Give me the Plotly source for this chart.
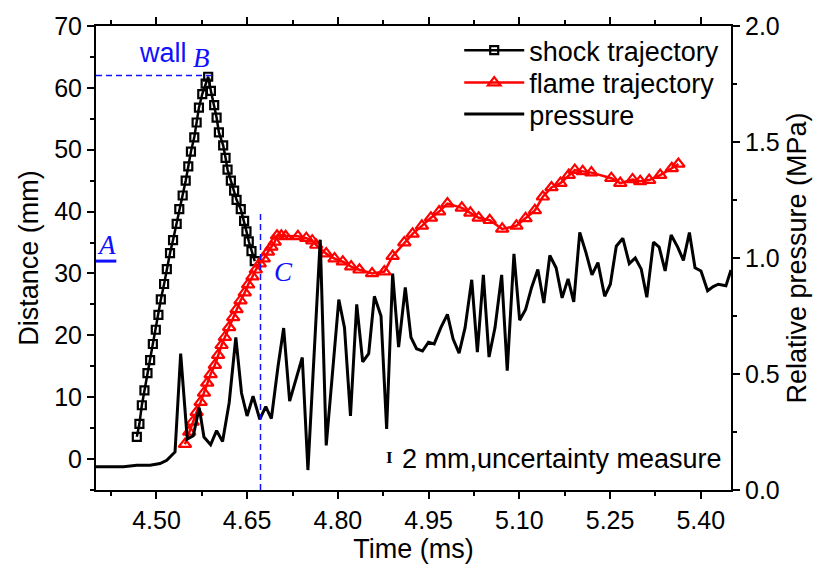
import plotly.graph_objects as go

# ---------------- data ----------------
shock_t = [4.4675, 4.4718, 4.4758, 4.4801, 4.4851, 4.4895, 4.4940, 4.4989, 4.5032, 4.5072,
           4.5126, 4.5171, 4.5224, 4.5274, 4.5334, 4.5377, 4.5433, 4.5483, 4.5526, 4.5570,
           4.5625, 4.5664, 4.5702, 4.5757, 4.5813, 4.5855,
           4.5900, 4.5954, 4.5994, 4.6032, 4.6103, 4.6142, 4.6175, 4.6230, 4.6284, 4.6324,
           4.6394, 4.6449, 4.6488, 4.6526, 4.6571, 4.6625]
shock_d = [3.6, 5.7, 8.7, 11.1, 13.9, 16.0, 18.6, 20.9, 23.3, 25.8,
           28.3, 30.7, 33.3, 35.4, 38.0, 40.4, 42.6, 45.0, 47.3, 49.7,
           52.0, 54.4, 56.8, 59.0, 60.7, 61.8,
           59.5, 57.2, 55.2, 52.8, 50.7, 48.7, 46.8, 45.0, 43.4, 41.9,
           40.4, 38.5, 36.8, 35.2, 33.6, 32.0]

flame_t = [4.5471, 4.5542, 4.5598, 4.5664, 4.5730, 4.5785, 4.5839, 4.5895, 4.5966, 4.6020,
           4.6076, 4.6131, 4.6202, 4.6268, 4.6324, 4.6389, 4.6460, 4.6515, 4.6587, 4.6642,
           4.6708, 4.6774, 4.6844, 4.6900, 4.6955, 4.6993, 4.7065, 4.7136, 4.7339, 4.7477,
           4.7576, 4.7642, 4.7807, 4.7944, 4.8081, 4.8219, 4.8356, 4.8565, 4.8768, 4.8905,
           4.9098, 4.9235, 4.9389, 4.9538, 4.9674, 4.9811, 5.0049, 5.0190, 5.0328, 5.0510,
           5.0717, 5.0952, 5.1103, 5.1257, 5.1389, 5.1532, 5.1680, 5.1817, 5.1917, 5.2048,
           5.2191, 5.2521, 5.2669, 5.2872, 5.2999, 5.3147, 5.3329, 5.3521, 5.3630]
flame_d = [2.4, 4.4, 6.0, 7.6, 9.2, 10.7, 12.3, 13.7, 15.2, 16.8,
           18.4, 19.7, 21.3, 22.9, 24.2, 25.6, 26.9, 28.2, 29.5, 30.6,
           31.6, 32.4, 33.5, 34.3, 35.1, 36.1, 36.1, 36.0, 36.0, 35.7,
           35.3, 34.6, 33.2, 32.4, 31.9, 31.1, 30.6, 30.0, 30.3, 32.8,
           35.0, 36.4, 37.7, 39.0, 40.0, 41.3, 40.6, 39.8, 39.0, 38.6,
           37.2, 37.7, 38.9, 40.2, 42.4, 43.9, 44.6, 45.9, 46.7, 46.5,
           46.3, 45.4, 44.6, 45.2, 44.9, 45.1, 45.9, 47.0, 47.7]

press_t = [4.4000, 4.4016, 4.4235, 4.4454, 4.4675, 4.4894, 4.5059, 4.5170, 4.5252, 4.5307,
           4.5400, 4.5509, 4.5608, 4.5707, 4.5785, 4.5895, 4.5994, 4.6093, 4.6202, 4.6312,
           4.6406, 4.6498, 4.6597, 4.6708, 4.6807, 4.6900, 4.7009, 4.7103, 4.7202, 4.7411,
           4.7504, 4.7708, 4.7807, 4.8015, 4.8109, 4.8208, 4.8311, 4.8410, 4.8509, 4.8603,
           4.8713, 4.8806, 4.8905, 4.9004, 4.9114, 4.9208, 4.9300, 4.9399, 4.9498, 4.9592,
           4.9702, 4.9811, 4.9905, 5.0004, 5.0103, 5.0213, 5.0306, 5.0405, 5.0499, 5.0598,
           5.0708, 5.0800, 5.0911, 5.1005, 5.1104, 5.1203, 5.1306, 5.1405, 5.1504, 5.1608,
           5.1707, 5.1806, 5.1900, 5.1999, 5.2103, 5.2201, 5.2300, 5.2411, 5.2505, 5.2603,
           5.2712, 5.2818, 5.2917, 5.3016, 5.3108, 5.3218, 5.3312, 5.3411, 5.3510, 5.3619,
           5.3713, 5.3812, 5.3905, 5.4004, 5.4113, 5.4207, 5.4290, 5.4416, 5.4500]
press_p = [0.100, 0.100, 0.103, 0.100, 0.107, 0.107, 0.114, 0.128, 0.150, 0.164,
           0.588, 0.220, 0.234, 0.355, 0.228, 0.195, 0.256, 0.209, 0.376, 0.658,
           0.418, 0.319, 0.404, 0.305, 0.359, 0.308, 0.531, 0.698, 0.383, 0.571,
           0.086, 1.079, 0.192, 0.821, 0.700, 0.319, 0.800, 0.552, 0.588, 0.835,
           0.750, 0.263, 0.933, 0.616, 0.873, 0.658, 0.609, 0.599, 0.637, 0.630,
           0.700, 0.757, 0.651, 0.590, 0.700, 0.906, 0.594, 0.927, 0.573, 0.700,
           0.927, 0.514, 1.018, 0.732, 0.778, 0.873, 0.950, 0.806, 1.011, 0.958,
           0.828, 0.910, 0.811, 1.110, 1.022, 0.927, 0.980, 0.835, 0.887, 1.051,
           1.085, 0.976, 1.000, 0.952, 0.831, 1.068, 1.047, 0.944, 1.099, 1.047,
           0.990, 1.110, 0.958, 0.944, 0.859, 0.877, 0.887, 0.880, 0.948]

x_ticks = [4.50, 4.65, 4.80, 4.95, 5.10, 5.25, 5.40]
x_ticklabels = ["4.50", "4.65", "4.80", "4.95", "5.10", "5.25", "5.40"]

# annotation reference values
wall_d = 62
point_A_d = 32
point_C_t = 4.672
point_C_top = 40

FONT = "Liberation Sans, Arial, sans-serif"
SERIF = "Liberation Serif, Times New Roman, serif"
BLUE = "#1010ff"
TICK_SIZE = 25
TEXT_SIZE = 27

fig = go.Figure()
fig.add_trace(go.Scatter(
    x=shock_t, y=shock_d, name="shock trajectory", mode="lines+markers", legend="legend",
    line=dict(color="black", width=2.5),
    marker=dict(symbol="square-open", size=8, color="black", line=dict(width=2.2)),
))
fig.add_trace(go.Scatter(
    x=flame_t, y=flame_d, name="flame trajectory", mode="lines+markers", legend="legend2",
    line=dict(color="#ff0000", width=2.5),
    marker=dict(symbol="triangle-up-open", size=11, color="#ff0000", line=dict(width=2.2)),
))
fig.add_trace(go.Scatter(
    x=press_t, y=press_p, name="pressure", mode="lines", yaxis="y2", legend="legend3",
    line=dict(color="black", width=3),
))

# reference lines
fig.add_shape(type="line", xref="paper", yref="y", x0=0, x1=0.187, y0=wall_d, y1=wall_d,
              line=dict(color=BLUE, width=1.5, dash="6px,4px"))
fig.add_shape(type="line", xref="paper", yref="y", x0=0, x1=0.032, y0=point_A_d, y1=point_A_d,
              line=dict(color=BLUE, width=3))
fig.add_shape(type="line", xref="x", yref="paper", x0=point_C_t, x1=point_C_t, y0=0,
              y1=(point_C_top + 5) / 75, line=dict(color=BLUE, width=1.5, dash="6px,4px"))

ann = []
ann.append(dict(x=4.511, y=65.6, xref="x", yref="y", text="wall", showarrow=False,
                font=dict(family=FONT, size=TEXT_SIZE, color=BLUE), xanchor="center", yanchor="middle"))
ann.append(dict(x=4.574, y=64.9, xref="x", yref="y", text="<i>B</i>", showarrow=False,
                font=dict(family=SERIF, size=TEXT_SIZE, color=BLUE), xanchor="center", yanchor="middle"))
ann.append(dict(x=4.417, y=34.6, xref="x", yref="y", text="<i>A</i>", showarrow=False,
                font=dict(family=SERIF, size=TEXT_SIZE, color=BLUE), xanchor="center", yanchor="middle"))
ann.append(dict(x=4.7105, y=30.3, xref="x", yref="y", text="<i>C</i>", showarrow=False,
                font=dict(family=SERIF, size=TEXT_SIZE, color=BLUE), xanchor="center", yanchor="middle"))
ann.append(dict(x=4.886, y=0.3, xref="x", yref="y", text="<b>I</b>", showarrow=False,
                font=dict(family=SERIF, size=17, color="black"), xanchor="center", yanchor="middle"))
ann.append(dict(x=4.903, y=0.0, xref="x", yref="y", text="2 mm,uncertainty measure", showarrow=False,
                font=dict(family=FONT, size=TEXT_SIZE, color="black"), xanchor="left", yanchor="middle"))

axis_common = dict(showline=True, linecolor="black", linewidth=2, ticks="outside",
                   tickcolor="black", tickwidth=1.5, ticklen=7, showgrid=False, zeroline=False,
                   tickfont=dict(family=FONT, size=TICK_SIZE, color="black"))

legend_common = dict(x=0.572, xanchor="left", yanchor="middle", bgcolor="rgba(0,0,0,0)",
                     itemwidth=60, font=dict(family=FONT, size=TEXT_SIZE, color="black"))

fig.update_layout(
    width=819, height=571,
    margin=dict(l=96, r=86, t=20, b=79),
    paper_bgcolor="white", plot_bgcolor="white",
    font=dict(family=FONT, size=TEXT_SIZE, color="black"),
    showlegend=True,
    legend=dict(y=(492 - 45) / 472, **legend_common),
    legend2=dict(y=(492 - 78) / 472, **legend_common),
    legend3=dict(y=(492 - 110) / 472, **legend_common),
    xaxis=dict(range=[4.40, 5.45], tickvals=x_ticks, ticktext=x_ticklabels, mirror="ticks",
               minor=dict(dtick=0.075, tick0=4.425, ticks="outside", ticklen=4, tickwidth=1.5,
                          tickcolor="black"),
               title=dict(text="Time (ms)", font=dict(family=FONT, size=TEXT_SIZE), standoff=6),
               **axis_common),
    yaxis=dict(range=[-5, 70], dtick=10, tick0=0,
               minor=dict(dtick=5, tick0=0, ticks="outside", ticklen=4, tickwidth=1.5,
                          tickcolor="black"),
               title=dict(text="Distance (mm)", font=dict(family=FONT, size=TEXT_SIZE), standoff=8),
               **axis_common),
    yaxis2=dict(range=[0, 2], dtick=0.5, tick0=0, tickformat=".1f", overlaying="y", side="right",
                minor=dict(dtick=0.25, tick0=0, ticks="outside", ticklen=4, tickwidth=1.5,
                           tickcolor="black"),
                title=dict(text="Relative pressure (MPa)", font=dict(family=FONT, size=TEXT_SIZE), standoff=8),
                **axis_common),
    annotations=ann,
)

fig.write_html("out.html")
